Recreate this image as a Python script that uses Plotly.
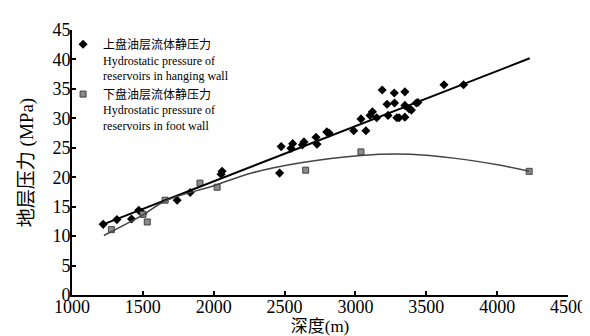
import plotly.graph_objects as go

# Hanging wall (上盘) data points
hw_depth = [1220, 1317, 1420, 1471, 1490, 1500, 1742, 1834, 2052, 2059, 2465,
            2476, 2545, 2557, 2626, 2637, 2722, 2729, 2798, 2814, 2988, 3039,
            3074, 3103, 3120, 3150, 3189, 3223, 3230, 3274, 3276, 3292, 3308,
            3349, 3349, 3349, 3379, 3395, 3430, 3441, 3625, 3763]
hw_press = [12.0, 12.8, 12.9, 14.4, 14.0, 13.8, 16.1, 17.4, 20.5, 21.0, 20.7,
            25.2, 24.9, 25.7, 25.5, 26.0, 26.8, 25.6, 27.7, 27.5, 27.9, 29.9,
            27.9, 30.5, 31.1, 30.1, 34.8, 32.4, 30.5, 34.3, 32.6, 30.1, 30.1,
            34.5, 32.2, 30.2, 31.6, 31.4, 32.6, 32.7, 35.7, 35.7]

# Foot wall (下盘) data points
fw_depth = [1278, 1501, 1531, 1657, 1903, 2024, 2649, 3039, 4226]
fw_press = [11.1, 13.7, 12.4, 16.1, 19.0, 18.3, 21.2, 24.3, 21.0]

# Trend curves
hw_fit_depth = [1220, 4230]
hw_fit_press = [12.0, 40.2]
fw_fit_depth = [1225, 1500, 1661, 2006, 2281, 2626, 3039, 3384, 3706, 4004, 4226]
fw_fit_press = [10.1, 13.6, 16.0, 18.6, 20.8, 22.5, 23.7, 23.9, 23.2, 22.1, 21.0]

x_ticks = [1000, 1500, 2000, 2500, 3000, 3500, 4000, 4500]
y_ticks = [0, 5, 10, 15, 20, 25, 30, 35, 40, 45]

serif = "'Liberation Serif', 'Times New Roman', 'Noto Sans CJK SC', serif"

fig = go.Figure()
fig.add_trace(go.Scatter(
    x=hw_depth, y=hw_press, mode="markers",
    marker=dict(symbol="diamond", size=7, color="black"),
    name="上盘油层流体静压力<br>Hydrostatic pressure of<br>reservoirs in hanging wall"))
fig.add_trace(go.Scatter(
    x=fw_depth, y=fw_press, mode="markers",
    marker=dict(symbol="square", size=6, color="#8a8a8a",
                line=dict(color="#444444", width=1)),
    name="下盘油层流体静压力<br>Hydrostatic pressure of<br>reservoirs in foot wall"))
fig.add_trace(go.Scatter(
    x=hw_fit_depth, y=hw_fit_press, mode="lines",
    line=dict(color="black", width=2), showlegend=False))
fig.add_trace(go.Scatter(
    x=fw_fit_depth, y=fw_fit_press, mode="lines", line_shape="spline",
    line=dict(color="#444444", width=1.5), showlegend=False))

fig.update_layout(
    width=590, height=336,
    margin=dict(l=64, r=18, t=16, b=49),
    paper_bgcolor="white", plot_bgcolor="white",
    font=dict(family=serif, color="black", size=18),
    legend=dict(x=-0.018, y=1.0, xanchor="left", yanchor="top",
                valign="top", bgcolor="rgba(0,0,0,0)",
                font=dict(family=serif, size=12, color="black"),
                itemwidth=30, tracegroupgap=0),
)
fig.update_xaxes(range=[1000, 4500], tickvals=x_ticks, ticktext=[str(v) for v in x_ticks],
                 showgrid=False, zeroline=False, showline=True, linecolor="black",
                 linewidth=2, ticks="inside", ticklen=4, tickwidth=1.5, tickcolor="black",
                 ticklabelstandoff=-6,
                 title=dict(text="深度(m)", standoff=0, font=dict(family=serif, size=17)),
                 tickfont=dict(family=serif, size=18))
fig.update_yaxes(range=[0, 45], tickvals=y_ticks, ticktext=[str(v) for v in y_ticks],
                 showgrid=False, zeroline=False, showline=True, linecolor="black",
                 linewidth=2, ticks="inside", ticklen=4, tickwidth=1.5, tickcolor="black",
                 ticklabelstandoff=-4,
                 title=dict(text="地层压力 (MPa)", standoff=14, font=dict(family=serif, size=19)),
                 tickfont=dict(family=serif, size=18))

fig.write_html("out.html")
